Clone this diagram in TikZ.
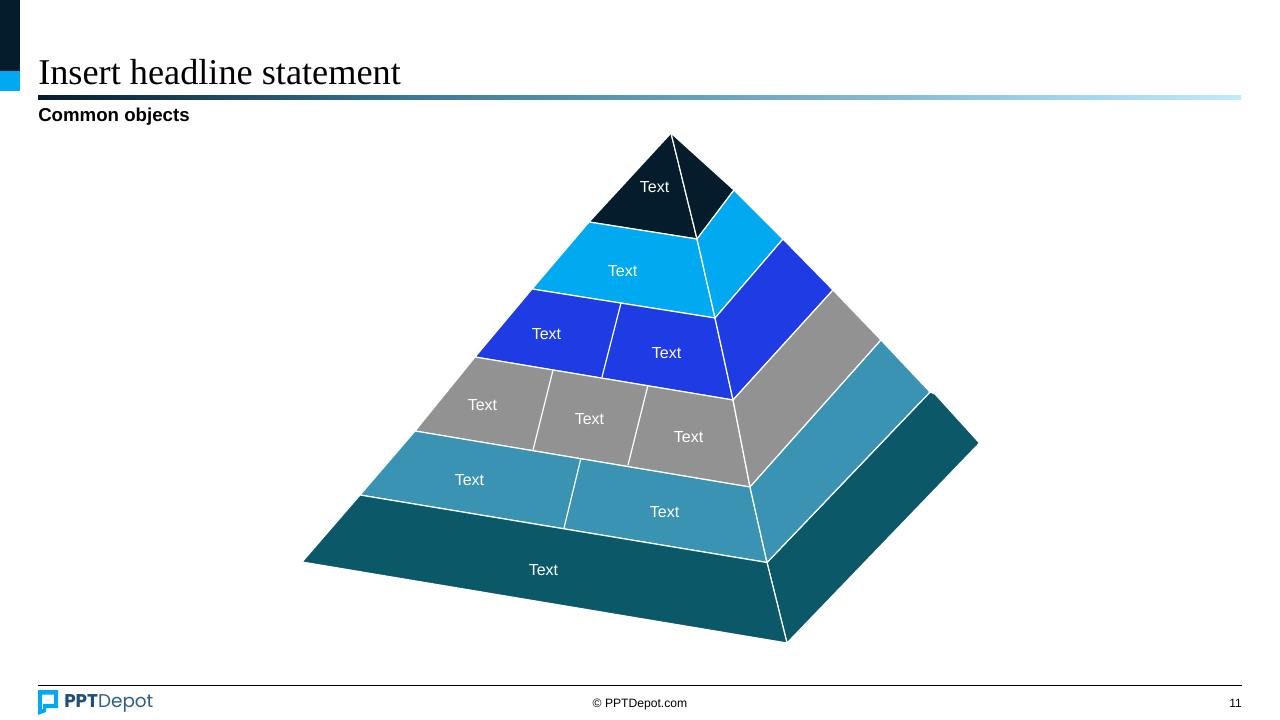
\documentclass[tikz,border=0pt]{standalone}
\usepackage{fontspec}
\setmainfont{Liberation Sans}
\newfontfamily\titlefont{Liberation Serif}
\newfontfamily\logofont{Poppins}
\definecolor{cdark}{HTML}{051C2C}
\definecolor{ccyan}{HTML}{00A9F0}
\definecolor{cblue}{HTML}{1F3BE3}
\definecolor{cgray}{HTML}{929292}
\definecolor{cteal}{HTML}{3B93B3}
\definecolor{cdeep}{HTML}{0B5868}
\definecolor{cmid}{HTML}{3E7A98}
\definecolor{cpale}{HTML}{BEEBFD}
\definecolor{clogo}{HTML}{1F4E79}
\definecolor{clogob}{HTML}{2F5F85}
\tikzset{
  face/.style={fill=#1,draw=white,line width=0.9pt,line join=round},
  lab/.style={text=white,font=\fontsize{12}{14}\selectfont,inner sep=0pt,anchor=center},
  divider/.style={draw=white,line width=0.9pt}
}
\begin{document}
\begin{tikzpicture}[x=0.75pt,y=-0.75pt]
\useasboundingbox (0,0) rectangle (1280,720);
\fill[white] (0,0) rectangle (1280,720);
% corner bars
\fill[cdark] (0,0) rectangle (20,71);
\fill[ccyan] (0,71) rectangle (20,91);
% header
\node[anchor=base west,inner sep=0pt,font=\titlefont\fontsize{27.2}{32}\selectfont] (title) at (38,85) {Insert headline statement};
\shade[left color=cdark,right color=cmid] (38,95.3) rectangle (420.5,99.3);
\shade[left color=cmid,right color=cpale] (420,95.3) rectangle (1241,99.3);
\node[anchor=base west,inner sep=0pt,font=\bfseries\fontsize{14}{16}\selectfont] (sub) at (38,122) {Common objects};
% coordinates
\coordinate (apex) at (671,133);
\coordinate (a1) at (589,222); \coordinate (m1) at (697,239); \coordinate (r1) at (734,190);
\coordinate (a2) at (532,289); \coordinate (m2) at (715,318); \coordinate (r2) at (783,239);
\coordinate (a3) at (475,357); \coordinate (m3) at (733,400); \coordinate (r3) at (833,290);
\coordinate (a4) at (415,431); \coordinate (m4) at (750,487); \coordinate (r4) at (881,340);
\coordinate (a5) at (360,495); \coordinate (m5) at (767,562.5); \coordinate (r5) at (930,392);
\coordinate (a6) at (302,562); \coordinate (m6) at (787,643); \coordinate (r6) at (979.5,443);
\coordinate (r5b) at (935,394);
% faces
\draw[face=cdark] (apex) -- (a1) -- (m1) -- cycle;
\draw[face=cdark] (apex) -- (r1) -- (m1) -- cycle;
\draw[face=ccyan] (a1) -- (m1) -- (m2) -- (a2) -- cycle;
\draw[face=ccyan] (m1) -- (r1) -- (r2) -- (m2) -- cycle;
\draw[face=cblue] (a2) -- (m2) -- (m3) -- (a3) -- cycle;
\draw[face=cblue] (m2) -- (r2) -- (r3) -- (m3) -- cycle;
\draw[face=cgray] (a3) -- (m3) -- (m4) -- (a4) -- cycle;
\draw[face=cgray] (m3) -- (r3) -- (r4) -- (m4) -- cycle;
\draw[face=cdeep] (m5) -- (r5) -- (r5b) -- (r6) -- (m6) -- cycle;
\draw[face=cteal] (a4) -- (m4) -- (m5) -- (a5) -- cycle;
\draw[face=cteal] (m4) -- (r4) -- (r5) -- (m5) -- cycle;
\draw[face=cdeep] (a5) -- (m5) -- (m6) -- (a6) -- cycle;
% dividers
\coordinate (d1a) at (621,303); \coordinate (d1b) at (602,377);
\coordinate (d2a) at (553,370); \coordinate (d2b) at (533,450);
\coordinate (d3a) at (648,385); \coordinate (d3b) at (628,465);
\coordinate (d4a) at (581,458); \coordinate (d4b) at (564,528);
\draw[divider] (d1a) -- (d1b);
\draw[divider] (d2a) -- (d2b);
\draw[divider] (d3a) -- (d3b);
\draw[divider] (d4a) -- (d4b);
% labels
\node[lab] (t1) at (654.5,187) {Text};
\node[lab] (t2) at (622.5,271) {Text};
\node[lab] (t3) at (546.5,334) {Text};
\node[lab] (t4) at (666.5,353) {Text};
\node[lab] (t5) at (482.5,405) {Text};
\node[lab] (t6) at (589.5,419) {Text};
\node[lab] (t7) at (688.5,437) {Text};
\node[lab] (t8) at (469.5,480) {Text};
\node[lab] (t9) at (664.5,512) {Text};
\node[lab] (t10) at (543.5,570) {Text};
% footer
\coordinate (fl) at (38,685.5); \coordinate (fr) at (1242,685.5);
\draw[black,line width=0.75pt] (fl) -- (fr);
\fill[ccyan,even odd rule] (38,690) -- (58,690) -- (58,708) -- (46,708) -- (46,712) -- (38,715) -- cycle
  (42,694.5) -- (42,709.5) -- (43,709) -- (43,704) -- (54,704) -- (54,694.5) -- cycle;
\node[anchor=base west,inner sep=0pt,text=clogo,font=\logofont\fontsize{13.8}{16}\selectfont] (logo) at (64,707) {\textbf{PPT}\textcolor{clogob}{Depot}};
\node[anchor=base,inner sep=0pt,font=\fontsize{9.1}{11}\selectfont] (copy) at (640,707) {© PPTDepot.com};
\node[anchor=base east,inner sep=0pt,font=\fontsize{9}{11}\selectfont] (page) at (1242,707) {11};
\end{tikzpicture}
\end{document}
